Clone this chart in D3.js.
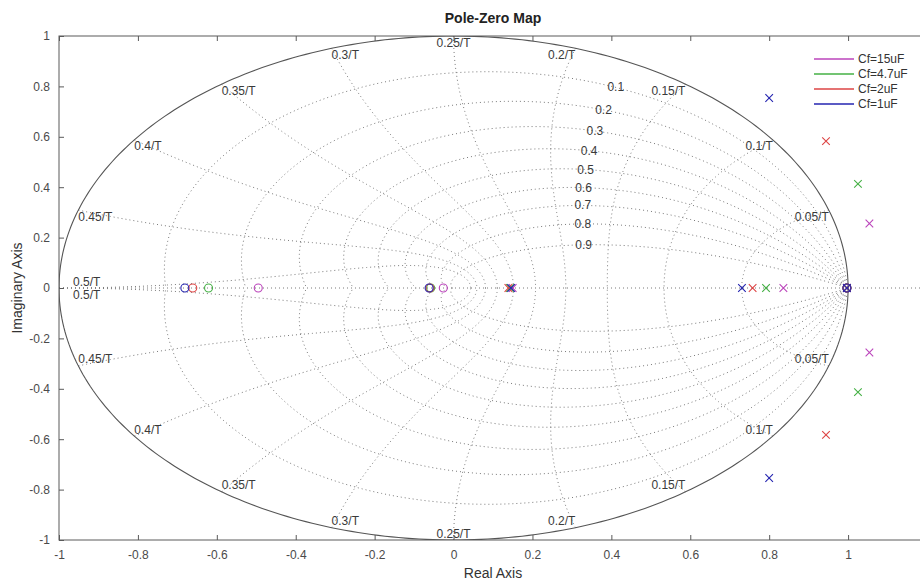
<!DOCTYPE html>
<html>
<head>
<meta charset="utf-8">
<script src="https://cdn.jsdelivr.net/npm/d3@7/dist/d3.min.js"></script>
<style>
  body { margin: 0; background: #fff; }
  svg { display: block; }
  text { font-family: "Liberation Sans", Arial, Helvetica, sans-serif; }
</style>
</head>
<body>
<svg id="chart" width="920" height="582"></svg>
<script>
// ---- data ----
const seriesNames = ["Cf=15uF", "Cf=4.7uF", "Cf=2uF", "Cf=1uF"];
const seriesColors = ["#bb44bb", "#44b044", "#dd4444", "#2424b0"];

// poles as [real, imag]
const polesCf15  = [[1.054, 0.256], [1.054, -0.256], [0.836, 0], [0.150, 0], [0.997, 0]];
const polesCf4p7 = [[1.025, 0.413], [1.025, -0.413], [0.792, 0], [0.143, 0], [0.997, 0]];
const polesCf2   = [[0.944, 0.583], [0.944, -0.583], [0.758, 0], [0.139, 0], [0.997, 0]];
const polesCf1   = [[0.800, 0.754], [0.800, -0.754], [0.731, 0], [0.146, 0], [0.997, 0]];

// zeros as [real, imag]
const zerosCf15  = [[-0.495, 0], [-0.026, 0], [0.997, 0]];
const zerosCf4p7 = [[-0.621, 0], [-0.058, 0], [0.997, 0]];
const zerosCf2   = [[-0.661, 0], [-0.060, 0], [0.997, 0]];
const zerosCf1   = [[-0.681, 0], [-0.062, 0], [0.997, 0]];

const xTicks = [-1, -0.8, -0.6, -0.4, -0.2, 0, 0.2, 0.4, 0.6, 0.8, 1];
const yTicks = [-1, -0.8, -0.6, -0.4, -0.2, 0, 0.2, 0.4, 0.6, 0.8, 1];

// z-plane grid: damping ratios and natural frequencies (wn*T = k*pi/10)
const dampingRatios = [0.1, 0.2, 0.3, 0.4, 0.5, 0.6, 0.7, 0.8, 0.9];
const freqSteps = [1, 2, 3, 4, 5, 6, 7, 8, 9, 10];
const freqLabels = ["0.05/T", "0.1/T", "0.15/T", "0.2/T", "0.25/T", "0.3/T", "0.35/T", "0.4/T", "0.45/T", "0.5/T"];

// ---- layout ----
const svg = d3.select("#chart");
const plot = { left: 59, right: 927, top: 36, bottom: 540 };
const x = d3.scaleLinear().domain([-1, 1.2]).range([plot.left, plot.right]);
const y = d3.scaleLinear().domain([-1, 1]).range([plot.bottom, plot.top]);

const axisColor = "#5a5a5a";
const gridColor = "#7a7a7a";
const gridText = "#3a3a3a";

svg.append("defs").append("clipPath").attr("id", "plotClip")
  .append("rect")
  .attr("x", plot.left).attr("y", plot.top)
  .attr("width", plot.right - plot.left).attr("height", plot.bottom - plot.top);

const gridG = svg.append("g").attr("clip-path", "url(#plotClip)");
const line = d3.line().x(d => x(d[0])).y(d => y(d[1]));

function dotted(pts) {
  gridG.append("path").attr("d", line(pts))
    .attr("fill", "none").attr("stroke", gridColor)
    .attr("stroke-width", 1).attr("stroke-dasharray", "1,3");
}

// real axis
dotted([[-1, 0], [1.2, 0]]);

// constant damping spirals: z = exp(theta * (-m + j)), m = zeta / sqrt(1 - zeta^2)
dampingRatios.forEach(zeta => {
  const m = zeta / Math.sqrt(1 - zeta * zeta);
  const up = d3.range(0, 201).map(i => {
    const th = Math.PI * i / 200;
    const r = Math.exp(-m * th);
    return [r * Math.cos(th), r * Math.sin(th)];
  });
  dotted(up);
  dotted(up.map(p => [p[0], -p[1]]));
});

// constant natural frequency curves: z = exp(wn * e^{j phi}), phi in [pi/2, pi]
freqSteps.forEach(k => {
  const wn = k * Math.PI / 10;
  const up = d3.range(0, 201).map(i => {
    const phi = Math.PI / 2 + (Math.PI / 2) * i / 200;
    const r = Math.exp(wn * Math.cos(phi));
    const a = wn * Math.sin(phi);
    return [r * Math.cos(a), r * Math.sin(a)];
  });
  dotted(up);
  dotted(up.map(p => [p[0], -p[1]]));
});

// unit circle (stability boundary)
gridG.append("path")
  .attr("d", line(d3.range(0, 361).map(i => {
    const a = 2 * Math.PI * i / 360;
    return [Math.cos(a), Math.sin(a)];
  })))
  .attr("fill", "none").attr("stroke", "#555").attr("stroke-width", 1.1);

// damping labels along wn*T = 0.35*pi
const labelFont = 12;
dampingRatios.forEach(zeta => {
  const wn = 0.35 * Math.PI;
  const r = Math.exp(-zeta * wn);
  const a = wn * Math.sqrt(1 - zeta * zeta);
  svg.append("text")
    .attr("x", x(r * Math.cos(a))).attr("y", y(r * Math.sin(a)))
    .attr("text-anchor", "middle").attr("dominant-baseline", "central")
    .attr("font-size", labelFont).attr("fill", gridText)
    .text(String(zeta));
});

// natural frequency labels on the unit circle
freqSteps.forEach((k, i) => {
  const a = k * Math.PI / 10;
  const anchor = k < 5 ? "end" : (k === 5 ? "middle" : "start");
  const dx = k === 10 ? 14 : 0;
  [1, -1].forEach(sgn => {
    const px = x(Math.cos(a)) + dx;
    const py = y(sgn * Math.sin(a));
    // upper-half labels hang below their point, lower-half labels sit above it
    const below = k === 10 ? sgn < 0 : sgn > 0;
    svg.append("text")
      .attr("x", px).attr("y", below ? py + 10.5 : py - 2.5)
      .attr("text-anchor", anchor)
      .attr("font-size", labelFont).attr("fill", gridText)
      .text(freqLabels[i]);
  });
});

// ---- axes box and ticks ----
svg.append("rect")
  .attr("x", plot.left).attr("y", plot.top)
  .attr("width", plot.right - plot.left).attr("height", plot.bottom - plot.top)
  .attr("fill", "none").attr("stroke", axisColor).attr("stroke-width", 1);

const tickLen = 5;
const tickFmt = d => String(+d.toFixed(1));

const xAxisB = d3.axisBottom(x).tickValues(xTicks).tickSize(-tickLen).tickPadding(10).tickFormat(tickFmt);
const xAxisT = d3.axisTop(x).tickValues(xTicks).tickSize(-tickLen).tickFormat("");
const yAxisL = d3.axisLeft(y).tickValues(yTicks).tickSize(-tickLen).tickPadding(9).tickFormat(tickFmt);

function styleAxis(g) {
  g.select(".domain").remove();
  g.selectAll(".tick line").attr("stroke", axisColor);
  g.selectAll(".tick text").attr("fill", "#4a4a4a").attr("font-size", 12)
    .attr("font-family", "'Liberation Sans', Arial, sans-serif");
}
svg.append("g").attr("transform", `translate(0,${plot.bottom})`).call(xAxisB).call(styleAxis);
svg.append("g").attr("transform", `translate(0,${plot.top})`).call(xAxisT).call(styleAxis);
svg.append("g").attr("transform", `translate(${plot.left},0)`).call(yAxisL).call(styleAxis);

// ---- poles and zeros ----
const poleSets = [polesCf15, polesCf4p7, polesCf2, polesCf1];
const zeroSets = [zerosCf15, zerosCf4p7, zerosCf2, zerosCf1];
const markG = svg.append("g");
const xs = 3.8;
seriesNames.forEach((name, i) => {
  const c = seriesColors[i];
  zeroSets[i].forEach(p => {
    markG.append("circle").attr("cx", x(p[0])).attr("cy", y(p[1])).attr("r", 4)
      .attr("fill", "none").attr("stroke", c).attr("stroke-width", 1.1);
  });
  poleSets[i].forEach(p => {
    const cx = x(p[0]), cy = y(p[1]);
    markG.append("path")
      .attr("d", `M${cx - xs},${cy - xs}L${cx + xs},${cy + xs}M${cx - xs},${cy + xs}L${cx + xs},${cy - xs}`)
      .attr("fill", "none").attr("stroke", c).attr("stroke-width", 1.1);
  });
});

// ---- legend ----
const leg = svg.append("g");
seriesNames.forEach((name, i) => {
  const ly = 59 + i * 15;
  leg.append("line").attr("x1", 814).attr("x2", 854).attr("y1", ly).attr("y2", ly)
    .attr("stroke", seriesColors[i]).attr("stroke-width", 1.3);
  leg.append("text").attr("x", 858).attr("y", ly + 4.3)
    .attr("font-size", 12).attr("fill", "#333").text(name);
});

// ---- titles ----
const cx = (plot.left + plot.right) / 2;
svg.append("text").attr("x", cx).attr("y", 23).attr("text-anchor", "middle")
  .attr("font-size", 14).attr("font-weight", "bold").attr("fill", "#222").text("Pole-Zero Map");
svg.append("text").attr("x", cx).attr("y", 578).attr("text-anchor", "middle")
  .attr("font-size", 14).attr("fill", "#333").text("Real Axis");
svg.append("text").attr("transform", `translate(22,${(plot.top + plot.bottom) / 2}) rotate(-90)`)
  .attr("text-anchor", "middle").attr("font-size", 14).attr("fill", "#333").text("Imaginary Axis");
</script>
</body>
</html>
